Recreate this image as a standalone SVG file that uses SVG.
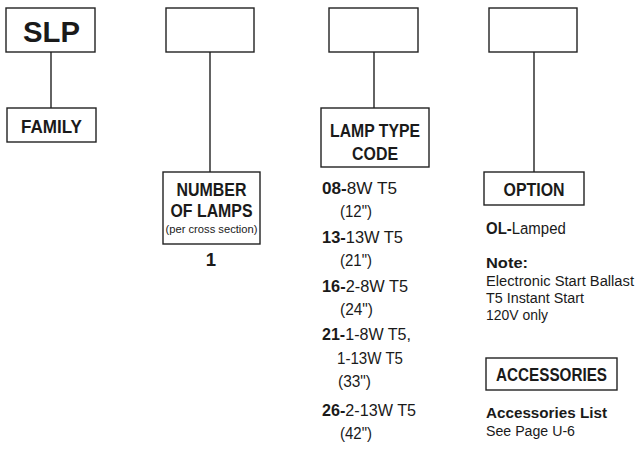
<svg xmlns="http://www.w3.org/2000/svg" width="639" height="468" viewBox="0 0 639 468">
<style>
.box{fill:#fff;stroke:#222;stroke-width:1.4}
.ln{stroke:#222;stroke-width:1.4;fill:none}
text{font-family:"Liberation Sans",Arial,sans-serif;fill:#1a1a1a}
.h{font-weight:bold;font-size:18.5px;text-anchor:middle}
.t{font-size:17px}
.n{font-size:15.2px}
.b{font-weight:bold}
</style>
<rect width="639" height="468" fill="#fff"/>
<g id="connectors">
<line class="ln" x1="51" y1="52" x2="51" y2="108"/>
<line class="ln" x1="210" y1="52" x2="210" y2="172"/>
<line class="ln" x1="374" y1="52" x2="374" y2="108"/>
<line class="ln" x1="534" y1="52" x2="534" y2="172"/>
</g>
<g id="slp"><rect class="box" x="6" y="8" width="89" height="44"/><text x="51.5" y="42" text-anchor="middle" font-weight="bold" font-size="30" textLength="57" lengthAdjust="spacingAndGlyphs">SLP</text></g>
<g id="family"><rect class="box" x="7" y="108" width="89" height="34"/><text class="h" x="51.5" y="132.5" textLength="61" lengthAdjust="spacingAndGlyphs">FAMILY</text></g>
<g id="box2"><rect class="box" x="166" y="8" width="88" height="44"/></g>
<g id="lamps"><rect class="box" x="163" y="172" width="97" height="72"/>
<text class="h" x="211.5" y="196" textLength="70" lengthAdjust="spacingAndGlyphs">NUMBER</text>
<text class="h" x="211.5" y="217" textLength="82" lengthAdjust="spacingAndGlyphs">OF LAMPS</text>
<text x="211.5" y="233" text-anchor="middle" font-size="11.5" textLength="92" lengthAdjust="spacingAndGlyphs">(per cross section)</text>
<text class="h" x="211" y="266" font-size="17">1</text></g>
<g id="box3"><rect class="box" x="329" y="8" width="89" height="44"/></g>
<g id="lamptype"><rect class="box" x="321" y="108" width="108" height="59"/>
<text class="h" x="375" y="137" textLength="90" lengthAdjust="spacingAndGlyphs">LAMP TYPE</text>
<text class="h" x="375" y="160" textLength="46" lengthAdjust="spacingAndGlyphs">CODE</text></g>
<g id="codes" class="t">
<text x="322" y="194" textLength="75" lengthAdjust="spacingAndGlyphs"><tspan class="b">08-</tspan>8W T5</text>
<text x="340" y="217" textLength="32" lengthAdjust="spacingAndGlyphs">(12")</text>
<text x="322" y="243" textLength="81" lengthAdjust="spacingAndGlyphs"><tspan class="b">13-</tspan>13W T5</text>
<text x="340" y="266" textLength="32" lengthAdjust="spacingAndGlyphs">(21")</text>
<text x="322" y="292" textLength="86" lengthAdjust="spacingAndGlyphs"><tspan class="b">16-</tspan>2-8W T5</text>
<text x="340" y="315" textLength="33" lengthAdjust="spacingAndGlyphs">(24")</text>
<text x="322" y="340" textLength="89" lengthAdjust="spacingAndGlyphs"><tspan class="b">21-</tspan>1-8W T5,</text>
<text x="337" y="364" textLength="66" lengthAdjust="spacingAndGlyphs">1-13W T5</text>
<text x="338" y="387" textLength="33" lengthAdjust="spacingAndGlyphs">(33")</text>
<text x="322" y="416" textLength="94" lengthAdjust="spacingAndGlyphs"><tspan class="b">26-</tspan>2-13W T5</text>
<text x="340" y="439" textLength="32" lengthAdjust="spacingAndGlyphs">(42")</text>
</g>
<g id="box4"><rect class="box" x="489" y="8" width="88" height="44"/></g>
<g id="option"><rect class="box" x="484" y="172" width="100" height="33"/><text class="h" x="534" y="195.5" textLength="61" lengthAdjust="spacingAndGlyphs">OPTION</text></g>
<g id="notes" class="t">
<text transform="translate(486,234) scale(0.88,1)"><tspan class="b">OL-</tspan>Lamped</text>
<text x="486" y="268" class="b n" textLength="42" lengthAdjust="spacingAndGlyphs">Note:</text>
<text x="486" y="286" class="n" textLength="148" lengthAdjust="spacingAndGlyphs">Electronic Start Ballast</text>
<text x="486" y="303" class="n" textLength="98" lengthAdjust="spacingAndGlyphs">T5 Instant Start</text>
<text x="486" y="320" class="n" textLength="62" lengthAdjust="spacingAndGlyphs">120V only</text>
</g>
<g id="accessories"><rect class="box" x="486" y="358" width="131" height="32"/><text class="h" x="551.5" y="380.5" textLength="111" lengthAdjust="spacingAndGlyphs">ACCESSORIES</text></g>
<g id="acclist" class="t">
<text x="486" y="418" class="b n" textLength="121" lengthAdjust="spacingAndGlyphs">Accessories List</text>
<text x="486" y="436" class="n" textLength="89" lengthAdjust="spacingAndGlyphs">See Page U-6</text>
</g>
</svg>
